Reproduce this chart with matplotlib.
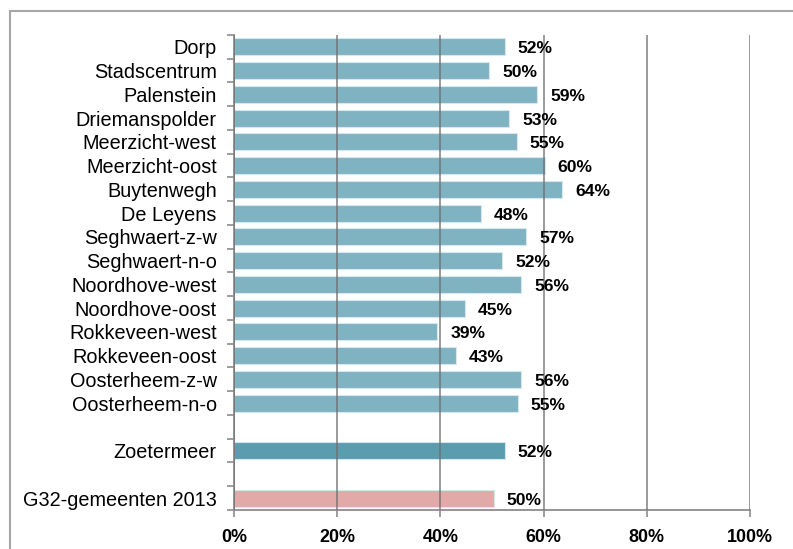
import matplotlib
matplotlib.use("Agg")
import matplotlib.pyplot as plt
from matplotlib.patches import Rectangle

categories = ["Dorp", "Stadscentrum", "Palenstein", "Driemanspolder", "Meerzicht-west",
              "Meerzicht-oost", "Buytenwegh", "De Leyens", "Seghwaert-z-w", "Seghwaert-n-o",
              "Noordhove-west", "Noordhove-oost", "Rokkeveen-west", "Rokkeveen-oost",
              "Oosterheem-z-w", "Oosterheem-n-o"]
values = [52.5, 49.5, 58.8, 53.3, 54.8, 60.2, 63.6, 47.8, 56.6, 52.0,
          55.7, 44.7, 39.4, 43.0, 55.7, 55.0]
labels = ["52%", "50%", "59%", "53%", "55%", "60%", "64%", "48%", "57%", "52%",
          "56%", "45%", "39%", "43%", "56%", "55%"]

city_name = "Zoetermeer"
city_value = 52.5
city_label = "52%"
bench_name = "G32-gemeenten 2013"
bench_value = 50.3
bench_label = "50%"
xticks = [0, 20, 40, 60, 80, 100]
xticklabels = ["0%", "20%", "40%", "60%", "80%", "100%"]

plt.rcParams['font.family'] = ['Liberation Sans', 'DejaVu Sans']

W, H = 793, 549
fig = plt.figure(figsize=(W / 100, H / 100), dpi=100)

# outer frame
fig.patches.append(Rectangle((10 / W, -0.1), 2.0, (H - 11) / H + 0.1, transform=fig.transFigure,
                             fill=False, edgecolor='#a6a6a6', linewidth=1.5))

ax = fig.add_axes([234 / W, 1 - 510 / H, (750 - 234) / W, (510 - 35) / H])

positions = list(range(len(categories))) + [len(categories) + 1, len(categories) + 3]
all_vals = values + [city_value, bench_value]
all_labels = labels + [city_label, bench_label]
colors = ['#7fb3c2'] * len(categories) + ['#5a9dae', '#e1a9a8']
names = categories + [city_name, bench_name]

ax.barh(positions, all_vals, height=0.72, color=colors, edgecolor='#d6e8ee', linewidth=0.8, zorder=1)

for p, v, lab in zip(positions, all_vals, all_labels):
    ax.annotate(lab, xy=(v, p), xytext=(13, -2), textcoords='offset pixels',
                ha='left', va='center', fontsize=12.6, fontweight='bold', color='black', zorder=5)

n = len(categories) + 4
ax.set_ylim(n - 0.5, -0.5)
ax.set_xlim(0, 100)

ax.set_yticks(positions)
ax.set_yticklabels(names, fontsize=14.3)
ax.set_yticks([i - 0.5 for i in range(n + 1)], minor=True)
ax.tick_params(axis='y', which='major', length=0, pad=12.5)
ax.tick_params(axis='y', which='minor', length=5, width=1.2, color='#8c8c8c', direction='out')

ax.set_xticks(xticks)
ax.set_xticklabels(xticklabels, fontsize=12.9, fontweight='bold')
ax.tick_params(axis='x', length=5, width=1.2, color='#8c8c8c', pad=9)

ax.xaxis.grid(True, color='#6e6e6e', linewidth=1.3, alpha=0.75, zorder=3)
ax.set_axisbelow(False)

for s in ['top', 'right']:
    ax.spines[s].set_visible(False)
for s in ['left', 'bottom']:
    ax.spines[s].set_color('#8c8c8c')
    ax.spines[s].set_linewidth(1.3)

fig.savefig("out.png", dpi=100)
